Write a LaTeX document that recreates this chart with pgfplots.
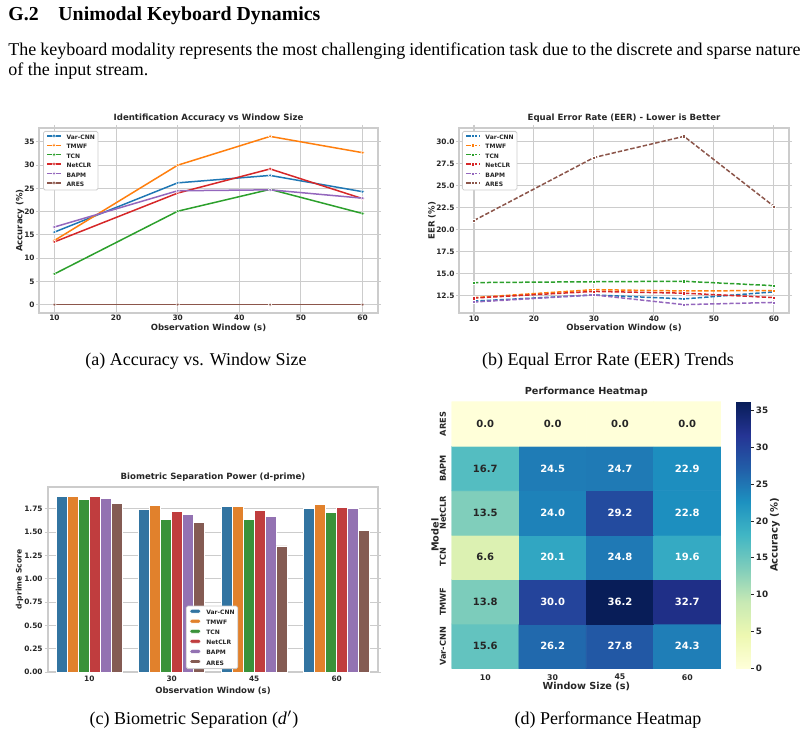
\documentclass[border=0pt]{standalone}
\usepackage{fontspec}
\setmainfont{Liberation Serif}
\newfontfamily\dv{DejaVu Sans}
\usepackage{pgfplots}
\pgfplotsset{compat=1.18}
\definecolor{c0}{HTML}{1F77B4}
\definecolor{c1}{HTML}{FF7F0E}
\definecolor{c2}{HTML}{2CA02C}
\definecolor{c3}{HTML}{D62728}
\definecolor{c4}{HTML}{9467BD}
\definecolor{c5}{HTML}{8C564B}
\definecolor{m0}{HTML}{3274A1}
\definecolor{m1}{HTML}{E1812C}
\definecolor{m2}{HTML}{3A923A}
\definecolor{m3}{HTML}{C03D3E}
\definecolor{m4}{HTML}{9372B2}
\definecolor{m5}{HTML}{845B53}
\definecolor{gridc}{HTML}{CCCCCC}
\definecolor{txt}{HTML}{262626}
\newcommand\ft[1]{\dv\bfseries\fontsize{#1}{#1}\selectfont}
\pgfplotsset{
  /pgf/number format/assume math mode=true,
  every axis title shift=0pt,
  colormap={ylgnbu}{rgb255=(255,255,217) rgb255=(237,248,177) rgb255=(199,233,180) rgb255=(127,205,187) rgb255=(65,182,196) rgb255=(29,145,192) rgb255=(34,94,168) rgb255=(37,52,148) rgb255=(8,29,88)},
  sb/.style={scale only axis, anchor=south west,
    axis line style={gridc, line width=0.6pt},
    grid style={gridc, line width=0.5pt},
    tick align=outside, major tick length=1.6pt,
    tick style={gridc, line width=0.5pt},
    ticklabel style={font=\ft{3.7}, text=txt},
    xticklabel style={anchor=center, inner sep=0pt},
    yticklabel style={anchor=east, inner sep=0pt},
    label style={font=\ft{4.25}, text=txt},
    title style={font=\ft{4.3}, text=txt, anchor=center, at={(axis description cs:0.5,1.054)}},
  },
  lg/.style={legend style={draw=gridc, fill=white, rounded corners=0.8pt, font=\ft{3.0}, text=txt,
      inner xsep=1.6pt, inner ysep=1.4pt, row sep=1.65pt,
      nodes={inner sep=0pt, text height=2.2pt, text depth=0.4pt},
      /tikz/every odd column/.append style={column sep=2.6pt}},
    legend cell align=left},
}
\begin{document}
\begin{tikzpicture}
\path[use as bounding box] (0,0) rectangle (402.5pt,-369pt);
% ---- text of the page ----
\node[anchor=base west, inner sep=0pt] at (4pt,-10.5pt) {\fontsize{9.9}{12}\selectfont\bfseries G.2\quad Unimodal Keyboard Dynamics};
\node[anchor=base west, inner sep=0pt] at (4pt,-27.6pt) {\fontsize{9}{11}\selectfont\makebox[396pt][s]{The keyboard modality represents the most challenging identification task due to the discrete and sparse nature}};
\node[anchor=base west, inner sep=0pt] at (4pt,-37.6pt) {\fontsize{9}{11}\selectfont of the input stream.};
\node[anchor=base, inner sep=0pt] at (98pt,-183pt) {\fontsize{9}{11}\selectfont (a) Accuracy vs. Window Size};
\node[anchor=base, inner sep=0pt] at (304pt,-183pt) {\fontsize{9}{11}\selectfont (b) Equal Error Rate (EER) Trends};
\node[anchor=base, inner sep=0pt] at (97pt,-362.5pt) {\fontsize{9}{11}\selectfont (c) Biometric Separation (\textit{d}$'$)};
\node[anchor=base, inner sep=0pt] at (304pt,-362.5pt) {\fontsize{9}{11}\selectfont (d) Performance Heatmap};

% ---- (a) accuracy ----
\begin{axis}[sb, lg, at={(19.5pt,-156.5pt)}, width=169.5pt, height=92.5pt,
  xmin=7.5, xmax=62.5, ymin=-1.81, ymax=38.01,
  xtick={10,20,30,40,50,60}, ytick={0,5,10,15,20,25,30,35},
  grid=major,
  xticklabel style={yshift=-1.05pt}, yticklabel style={xshift=-0.4pt},
  title={Identification Accuracy vs Window Size},
  xlabel={Observation Window (s)}, ylabel={Accuracy (\%)},
  xlabel style={at={(axis description cs:0.5,-0.081)}, anchor=center},
  ylabel style={at={(axis description cs:-0.056,0.5)}, anchor=center},
  legend style={at={(0.012,0.984)}, anchor=north west},
  legend image code/.code={\draw[mark repeat=2, mark phase=2, #1] plot coordinates {(0pt,0.9pt) (3.3pt,0.9pt) (6.6pt,0.9pt)};},
  every axis plot/.append style={line width=0.75pt, mark=*, mark size=0.85pt, mark options={draw=white, line width=0.2pt}},
]
\addplot[c0] coordinates {(10,15.6) (30,26.2) (45,27.8) (60,24.3)};
\addlegendentry{Var-CNN}
\addplot[c1] coordinates {(10,13.8) (30,30.0) (45,36.2) (60,32.7)};
\addlegendentry{TMWF}
\addplot[c2] coordinates {(10,6.6) (30,20.1) (45,24.8) (60,19.6)};
\addlegendentry{TCN}
\addplot[c3] coordinates {(10,13.5) (30,24.0) (45,29.2) (60,22.8)};
\addlegendentry{NetCLR}
\addplot[c4] coordinates {(10,16.7) (30,24.5) (45,24.7) (60,22.9)};
\addlegendentry{BAPM}
\addplot[c5] coordinates {(10,0.0) (30,0.0) (45,0.0) (60,0.0)};
\addlegendentry{ARES}
\end{axis}

% ---- (b) EER ----
\begin{axis}[sb, lg, at={(229.5pt,-156.5pt)}, width=165pt, height=92.5pt,
  xmin=7.5, xmax=62.5, ymin=10.55, ymax=31.55,
  xtick={10,20,30,40,50,60}, ytick={12.5,15,17.5,20,22.5,25,27.5,30},
  grid=major,
  xticklabel style={yshift=-1.3pt}, yticklabel style={xshift=-0.4pt, /pgf/number format/.cd, fixed, fixed zerofill, precision=1},
  title={Equal Error Rate (EER) - Lower is Better},
  xlabel={Observation Window (s)}, ylabel={EER (\%)},
  xlabel style={at={(axis description cs:0.5,-0.081)}, anchor=center},
  ylabel style={at={(axis description cs:-0.082,0.5)}, anchor=center},
  legend style={at={(0.009,0.984)}, anchor=north west},
  legend image code/.code={\draw[mark repeat=2, mark phase=2, #1] plot coordinates {(0pt,0.9pt) (3.3pt,0.9pt) (6.6pt,0.9pt)};},
  every axis plot/.append style={line width=0.75pt, dash pattern=on 2.2pt off 1pt, mark=square*, mark size=0.85pt, mark options={draw=white, line width=0.2pt, solid}},
]
\addplot[c0] coordinates {(10,11.9) (30,12.6) (45,12.15) (60,12.95)};
\addlegendentry{Var-CNN}
\addplot[c1] coordinates {(10,12.3) (30,13.2) (45,13.05) (60,13.1)};
\addlegendentry{TMWF}
\addplot[c2] coordinates {(10,14.0) (30,14.1) (45,14.15) (60,13.65)};
\addlegendentry{TCN}
\addplot[c3] coordinates {(10,12.25) (30,13.0) (45,12.8) (60,12.3)};
\addlegendentry{NetCLR}
\addplot[c4] coordinates {(10,11.8) (30,12.6) (45,11.5) (60,11.75)};
\addlegendentry{BAPM}
\addplot[c5] coordinates {(10,21.05) (30,28.2) (45,30.6) (60,22.65)};
\addlegendentry{ARES}
\end{axis}

% ---- (c) d-prime ----
\begin{axis}[sb, lg, at={(24pt,-336pt)}, width=165pt, height=92.5pt,
  ybar, bar width=0.1333,
  xmin=-0.5, xmax=3.5, ymin=0, ymax=1.983,
  xtick={0,1,2,3}, xticklabels={10,30,45,60},
  ytick={0,0.25,0.5,0.75,1,1.25,1.5,1.75},
  ymajorgrids, xtick style={draw=none},
  xticklabel style={yshift=-2.0pt}, yticklabel style={xshift=-0.9pt, /pgf/number format/.cd, fixed, fixed zerofill, precision=2},
  title={Biometric Separation Power (d-prime)},
  xlabel={Observation Window (s)}, ylabel={d-prime Score},
  xlabel style={at={(axis description cs:0.5,-0.1)}, anchor=center},
  ylabel style={at={(axis description cs:-0.086,0.5)}, anchor=center, font=\ft{3.8}},
  legend style={at={(0.497,0.016)}, anchor=south},
  legend image code/.code={\fill[#1] (0pt,-0.1pt) rectangle (5.5pt,1.9pt);},
  every axis plot/.append style={draw=white, line width=0.35pt},
]
\addplot[fill=m0, bar shift=-0.3333] coordinates {(0,1.878) (1,1.746) (2,1.771) (3,1.753)};
\addlegendentry{Var-CNN}
\addplot[fill=m1, bar shift=-0.2] coordinates {(0,1.882) (1,1.789) (2,1.778) (3,1.800)};
\addlegendentry{TMWF}
\addplot[fill=m2, bar shift=-0.0667] coordinates {(0,1.850) (1,1.636) (2,1.639) (3,1.707)};
\addlegendentry{TCN}
\addplot[fill=m3, bar shift=0.0667] coordinates {(0,1.885) (1,1.725) (2,1.728) (3,1.768)};
\addlegendentry{NetCLR}
\addplot[fill=m4, bar shift=0.2] coordinates {(0,1.857) (1,1.686) (2,1.664) (3,1.757)};
\addlegendentry{BAPM}
\addplot[fill=m5, bar shift=0.3333] coordinates {(0,1.807) (1,1.607) (2,1.351) (3,1.522)};
\addlegendentry{ARES}
\end{axis}

% ---- (d) heatmap ----
\begin{axis}[scale only axis, anchor=south west, at={(225.8pt,-334.2pt)}, width=134.7pt, height=133.3pt,
  enlargelimits=false, xmin=-0.5, xmax=3.5, ymin=-0.5, ymax=5.5,
  axis line style={draw=none}, major tick length=0pt,
  xtick={0,1,2,3}, xticklabels={10,30,45,60},
  ytick={0,1,2,3,4,5}, yticklabels={Var-CNN,TMWF,TCN,NetCLR,BAPM,ARES},
  xticklabel style={font=\ft{3.9}, text=txt, anchor=center, inner sep=0pt, yshift=-4.4pt},
  yticklabel style={font=\ft{4.1}, text=txt, anchor=center, inner sep=0pt, xshift=-4.4pt, rotate=90},
  title={Performance Heatmap},
  title style={font=\ft{4.85}, text=txt, anchor=center, at={(axis description cs:0.5,1.036)}},
  xlabel={Window Size (s)}, ylabel={Model},
  label style={font=\ft{4.85}, text=txt},
  xlabel style={at={(axis description cs:0.5,-0.066)}, anchor=center},
  ylabel style={at={(axis description cs:-0.062,0.5)}, anchor=center},
  colormap name=ylgnbu, point meta min=0, point meta max=36.2,
  colorbar,
  colorbar style={scale only axis, at={(parent axis.north east)}, anchor=north west,
    xshift=-1pt, width=7.35pt, height=133.2pt,
    ytick={0,5,10,15,20,25,30,35}, ytick pos=right, yticklabel pos=right,
    yticklabel style={font=\ft{4.4}, text=txt, anchor=west, inner sep=0pt, xshift=0.9pt},
    major tick length=1.5pt, tick align=outside, ytick style={txt, line width=0.35pt},
    axis line style={draw=none}},
]
\addplot[matrix plot*, mesh/cols=4, point meta=explicit] table[meta=c] {
x y c
0 0 15.6
1 0 26.2
2 0 27.8
3 0 24.3
0 1 13.8
1 1 30.0
2 1 36.2
3 1 32.7
0 2 6.6
1 2 20.1
2 2 24.8
3 2 19.6
0 3 13.5
1 3 24.0
2 3 29.2
3 3 22.8
0 4 16.7
1 4 24.5
2 4 24.7
3 4 22.9
0 5 0.0
1 5 0.0
2 5 0.0
3 5 0.0
};
\addplot[draw=none, mark=none, nodes near coords, point meta=explicit symbolic,
  nodes near coords style={font=\ft{5}, text=txt, inner sep=0pt, anchor=center}] table[meta=l] {
x y l
0 0 15.6
0 1 13.8
0 2 6.6
0 3 13.5
0 4 16.7
0 5 0.0
1 5 0.0
2 5 0.0
3 5 0.0
};
\addplot[draw=none, mark=none, nodes near coords, point meta=explicit symbolic,
  nodes near coords style={font=\ft{5}, text=white, inner sep=0pt, anchor=center}] table[meta=l] {
x y l
1 0 26.2
2 0 27.8
3 0 24.3
1 1 30.0
2 1 36.2
3 1 32.7
1 2 20.1
2 2 24.8
3 2 19.6
1 3 24.0
2 3 29.2
3 3 22.8
1 4 24.5
2 4 24.7
3 4 22.9
};
\end{axis}
\node[rotate=90, font=\ft{5}, text=txt, inner sep=0pt] at (387.5pt,-267.5pt) {Accuracy (\%)};
\end{tikzpicture}
\end{document}
